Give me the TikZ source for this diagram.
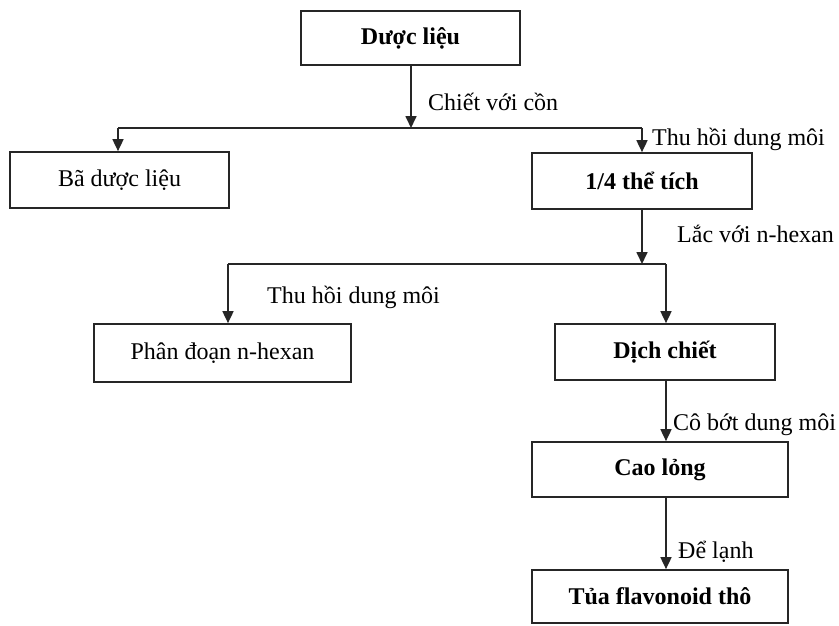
\documentclass[tikz,border=0pt]{standalone}
\usepackage{fontspec}
\setmainfont{Liberation Serif}
\usetikzlibrary{arrows.meta}

\tikzset{
  procbox/.style={draw=black!85, line width=1.7pt, inner sep=0pt,
    font=\fontsize{24}{28}\selectfont},
  boldbox/.style={procbox, font=\fontsize{24}{28}\selectfont\bfseries},
  flow/.style={draw=black!85, line width=1.7pt},
  flowarrow/.style={flow, -{Triangle[width=11pt,length=12pt]}},
  steplabel/.style={anchor=base west, inner sep=0pt,
    font=\fontsize{24}{28}\selectfont},
}

\begin{document}
\begin{tikzpicture}[x=1pt, y=-1pt]
\useasboundingbox (0,0) rectangle (839,625);

% process boxes
\node[boldbox, minimum width=219pt, minimum height=54pt] (duoc) at (410.5,38) {Dược liệu};
\node[procbox, minimum width=219pt, minimum height=56pt] (ba)   at (119.5,180) {Bã dược liệu};
\node[boldbox, minimum width=220pt, minimum height=56pt] (tt)   at (642,181) {1/4 thể tích};
\node[procbox, minimum width=257pt, minimum height=58pt] (pd)   at (222.5,353) {Phân đoạn n-hexan};
\node[boldbox, minimum width=220pt, minimum height=56pt] (dc)   at (665,352) {Dịch chiết};
\node[boldbox, minimum width=256pt, minimum height=55pt] (cl)   at (660,469.5) {Cao lỏng};
\node[boldbox, minimum width=256pt, minimum height=53pt] (tua)  at (660,596.5) {Tủa flavonoid thô};

% junction points of the branching lines
\coordinate (j1)  at (411,128);
\coordinate (j1l) at (118,128);
\coordinate (j1r) at (642,128);
\coordinate (j2)  at (642,264);
\coordinate (j2l) at (228,264);
\coordinate (j2r) at (666,264);

% first extraction split
\draw[flowarrow] (duoc.south -| j1) -- (j1);
\draw[flow] (j1l) -- (j1r);
\draw[flowarrow] (j1l) -- (j1l |- ba.north);
\draw[flowarrow] (j1r) -- (j1r |- tt.north);

% n-hexane partition split
\draw[flowarrow] (tt.south -| j2) -- (j2);
\draw[flow] (j2l) -- (j2r);
\draw[flowarrow] (j2l) -- (j2l |- pd.north);
\draw[flowarrow] (j2r) -- (j2r |- dc.north);

% concentration and precipitation
\draw[flowarrow] (dc.south -| j2r) -- (j2r |- cl.north);
\draw[flowarrow] (cl.south -| j2r) -- (j2r |- tua.north);

% step labels
\node[steplabel] (l1) at (428,110) {Chiết với cồn};
\node[steplabel] (l2) at (652,145) {Thu hồi dung môi};
\node[steplabel] (l3) at (677,242) {Lắc với n-hexan};
\node[steplabel] (l4) at (267,303) {Thu hồi dung môi};
\node[steplabel] (l5) at (673,430) {Cô bớt dung môi};
\node[steplabel] (l6) at (678,558) {Để lạnh};
\end{tikzpicture}
\end{document}
